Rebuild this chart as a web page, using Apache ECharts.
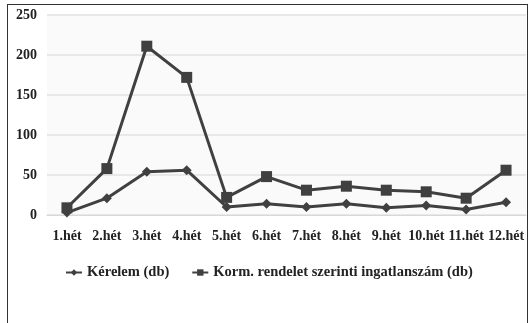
<!DOCTYPE html>
<html>
<head>
<meta charset="utf-8">
<script src="https://cdn.jsdelivr.net/npm/echarts@6/dist/echarts.min.js"></script>
<style>
  html, body { margin: 0; padding: 0; background: #fff; }
  #frame {
    position: absolute; left: 7px; top: 4px; width: 519px; height: 330px;
    border: 1.5px solid #333; border-bottom: none; background: #fff;
  }
  #chart { position: absolute; left: 0; top: 0; width: 529px; height: 323px; }
</style>
</head>
<body>
<div id="frame"></div>
<div id="chart"></div>
<script>
var weeks = ['1.hét', '2.hét', '3.hét', '4.hét', '5.hét', '6.hét', '7.hét', '8.hét', '9.hét', '10.hét', '11.hét', '12.hét'];
var kerelem = [3, 21, 54, 56, 10, 14, 10, 14, 9, 12, 7, 16];
var ingatlanszam = [9, 58, 211, 172, 22, 48, 31, 36, 31, 29, 21, 56];
var yTicks = [0, 50, 100, 150, 200, 250];

var font = '"Liberation Serif", "DejaVu Serif", serif';
var chart = echarts.init(document.getElementById('chart'));
chart.setOption({
  animation: false,
  textStyle: { fontFamily: font },
  grid: { left: 47, right: 3, top: 15, bottom: 108, backgroundColor: '#fafafa', show: true, borderWidth: 0 },
  legend: {
    left: 60, top: 260, itemGap: 22, itemWidth: 16, itemHeight: 8,
    textStyle: { fontFamily: font, fontWeight: 'bold', fontSize: 14.5, color: '#222' },
    data: ['Kérelem (db)', 'Korm. rendelet szerinti ingatlanszám (db)']
  },
  xAxis: {
    type: 'category', data: weeks, boundaryGap: true,
    axisLine: { lineStyle: { color: '#d8d8d8', width: 1 } },
    axisTick: { show: false },
    axisLabel: { fontFamily: font, fontWeight: 'bold', fontSize: 14, color: '#222', margin: 14, interval: 0 }
  },
  yAxis: {
    type: 'value', min: 0, max: 250, interval: 50,
    axisLine: { show: false }, axisTick: { show: false },
    axisLabel: { fontFamily: font, fontWeight: 'bold', fontSize: 14, color: '#222', margin: 10,
      formatter: function (v) { return yTicks.indexOf(v) >= 0 ? String(v) : ''; } },
    splitLine: { lineStyle: { color: '#e8e8e8', width: 2 } }
  },
  series: [
    {
      name: 'Kérelem (db)', type: 'line', data: kerelem,
      symbol: 'diamond', symbolSize: 10, showAllSymbol: true,
      lineStyle: { color: '#404040', width: 3 },
      itemStyle: { color: '#404040' }
    },
    {
      name: 'Korm. rendelet szerinti ingatlanszám (db)', type: 'line', data: ingatlanszam,
      symbol: 'rect', symbolSize: 11, showAllSymbol: true,
      lineStyle: { color: '#404040', width: 3 },
      itemStyle: { color: '#404040' }
    }
  ]
});
</script>
</body>
</html>
